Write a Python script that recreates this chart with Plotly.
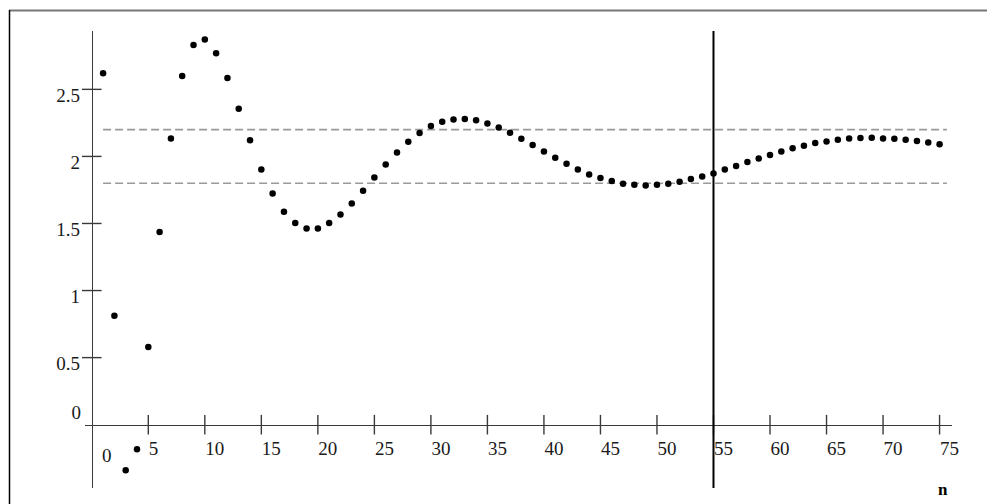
import plotly.graph_objects as go

# ---- data ----
n_vals = list(range(1, 76))
y_vals = [2.62, 0.813, -0.34, -0.184, 0.58, 1.436, 2.134, 2.60, 2.83, 2.871,
          2.77, 2.585, 2.356, 2.12, 1.903, 1.724, 1.587, 1.503, 1.463, 1.463,
          1.503, 1.567, 1.649, 1.744, 1.843, 1.940, 2.03, 2.11, 2.175, 2.227,
          2.259, 2.276, 2.279, 2.269, 2.246, 2.216, 2.177, 2.132, 2.085, 2.037,
          1.990, 1.946, 1.903, 1.866, 1.839, 1.816, 1.796, 1.789, 1.784, 1.789,
          1.796, 1.811, 1.831, 1.851, 1.873, 1.903, 1.928, 1.958, 1.985, 2.010,
          2.037, 2.06, 2.08, 2.10, 2.112, 2.125, 2.134, 2.137, 2.14, 2.134,
          2.132, 2.125, 2.115, 2.104, 2.09]
band_levels = [2.2, 1.8]
band_x = [1.0, 75.65]
vline_n = 55
x_ticks = [0, 5, 10, 15, 20, 25, 30, 35, 40, 45, 50, 55, 60, 65, 70, 75]
x_tick_labels = [str(v) for v in x_ticks]
y_ticks = [0, 0.5, 1, 1.5, 2, 2.5]
y_tick_labels = ["0", "0.5", "1", "1.5", "2", "2.5"]

X_RANGE = [-0.60, 76.10]
Y_RANGE = [-0.472, 2.935]

W, H = 987, 504
ML, MR, MT, MB = 85, 35, 31, 16
PW, PH = W - ML - MR, H - MT - MB

# paper positions of the crossing axes
x_axis_pos = (0 - Y_RANGE[0]) / (Y_RANGE[1] - Y_RANGE[0])
y_axis_pos = (0 - X_RANGE[0]) / (X_RANGE[1] - X_RANGE[0])

AXC = "#3a3a3a"
SERIF = "Liberation Serif"
FONT = dict(family=SERIF, size=19, color="#1a1a1a")

fig = go.Figure()

for lvl in band_levels:
    fig.add_trace(go.Scatter(x=band_x, y=[lvl, lvl], mode="lines",
                             line=dict(color="#9a9a9a", width=1.6, dash="8px,4px"),
                             hoverinfo="skip", showlegend=False))

# tick marks crossing the axes (drawn on the axes through the data scales)
fig.add_trace(go.Scatter(x=x_ticks[1:], y=[0] * (len(x_ticks) - 1), mode="markers",
                         marker=dict(symbol="line-ns", size=14,
                                     line=dict(color=AXC, width=1.4)),
                         hoverinfo="skip", showlegend=False, cliponaxis=False))
fig.add_trace(go.Scatter(x=[0] * (len(y_ticks) - 1), y=y_ticks[1:], mode="markers",
                         marker=dict(symbol="line-ew", size=14,
                                     line=dict(color=AXC, width=1.4)),
                         hoverinfo="skip", showlegend=False, cliponaxis=False))

fig.add_trace(go.Scatter(x=n_vals, y=y_vals, mode="markers",
                         marker=dict(color="black", size=6.5),
                         showlegend=False))

# dummy traces to register the label axes
for xa, ya in [("x3", "y"), ("x4", "y"), ("x", "y3"), ("x", "y4")]:
    fig.add_trace(go.Scatter(x=[None], y=[None], xaxis=xa, yaxis=ya,
                             hoverinfo="skip", showlegend=False))

common_x = dict(range=X_RANGE, domain=[0, 1], anchor="free", position=x_axis_pos,
                showgrid=False, zeroline=False, fixedrange=True)
common_y = dict(range=Y_RANGE, domain=[0, 1], anchor="free", position=y_axis_pos,
                showgrid=False, zeroline=False, fixedrange=True)

fig.update_layout(
    width=W, height=H,
    margin=dict(l=ML, r=MR, t=MT, b=MB),
    paper_bgcolor="white", plot_bgcolor="white",
    font=FONT,
    xaxis=dict(**common_x, showline=True, linecolor=AXC, linewidth=1.4,
               ticks="", showticklabels=False),
    xaxis3=dict(**common_x, overlaying="x", showline=False,
                ticks="outside", ticklen=7, tickcolor="rgba(0,0,0,0)",
                tickvals=x_ticks[1:], ticktext=x_tick_labels[1:],
                ticklabelposition="outside right", ticklabelstandoff=7,
                tickfont=FONT),
    xaxis4=dict(**common_x, overlaying="x", showline=False,
                ticks="outside", ticklen=7, tickcolor="rgba(0,0,0,0)",
                tickvals=x_ticks[:1], ticktext=x_tick_labels[:1],
                ticklabelshift=15, ticklabelstandoff=7,
                tickfont=FONT),
    yaxis=dict(**common_y, showline=True, linecolor=AXC, linewidth=1.4,
               ticks="", showticklabels=False),
    yaxis3=dict(**common_y, overlaying="y", showline=False,
                ticks="outside", ticklen=7, tickcolor="rgba(0,0,0,0)",
                tickvals=y_ticks[1:], ticktext=y_tick_labels[1:],
                ticklabelposition="outside bottom", ticklabelstandoff=8,
                ticklabelshift=-8, tickfont=FONT),
    yaxis4=dict(**common_y, overlaying="y", showline=False,
                ticks="outside", ticklen=7, tickcolor="rgba(0,0,0,0)",
                tickvals=y_ticks[:1], ticktext=y_tick_labels[:1],
                ticklabelshift=-12, ticklabelstandoff=0,
                tickfont=FONT),
    shapes=[
        # vertical marker line at n = 55
        dict(type="line", xref="x", yref="paper", x0=vline_n, x1=vline_n, y0=0, y1=1,
             line=dict(color="black", width=2)),
        # page frame (top grey, left black)
        dict(type="line", xref="paper", yref="paper",
             x0=(9 - ML) / PW, x1=(W - ML) / PW,
             y0=(H - MB - 10.5) / PH, y1=(H - MB - 10.5) / PH,
             line=dict(color="#777777", width=2)),
        dict(type="line", xref="paper", yref="paper",
             x0=(9.5 - ML) / PW, x1=(9.5 - ML) / PW,
             y0=(H - MB - 10) / PH, y1=(H - MB - H) / PH,
             line=dict(color="black", width=1.5)),
    ],
    annotations=[
        dict(text="<b>n</b>", xref="paper", yref="paper",
             x=(943 - ML) / PW, y=(H - MB - 490) / PH,
             xanchor="center", yanchor="middle", showarrow=False,
             font=dict(family=SERIF, size=17, color="black")),
    ],
)

fig.write_html("out.html", config={"displayModeBar": False},
               post_script="document.body.style.margin='0';")
